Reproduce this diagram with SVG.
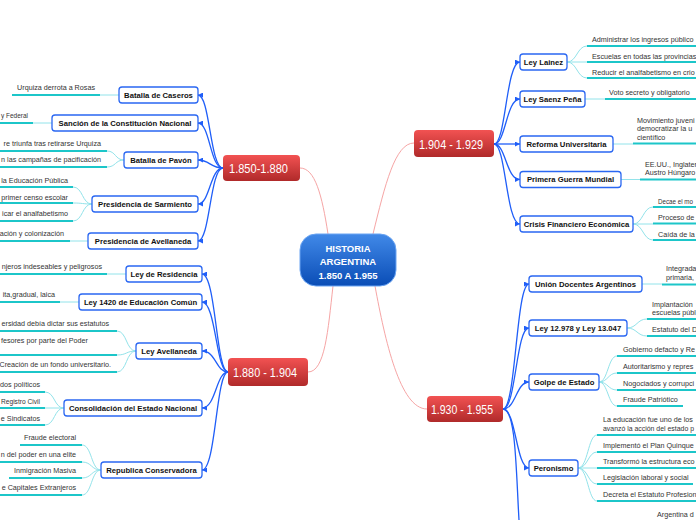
<svg xmlns="http://www.w3.org/2000/svg" width="696" height="520" viewBox="0 0 696 520">
<style>
.bl{fill:none;stroke:#1f5ef8;stroke-width:1.3;marker-end:url(#ar)}
.pk{fill:none;stroke:#f6a5a5;stroke-width:1}
.ul{stroke:#1cc6c9;stroke-width:2}
.lc{fill:none;stroke:#92e3ea;stroke-width:1}
.nd rect{fill:#fff;stroke:#2a67f2;stroke-width:1.3}
.nd text{font-family:"Liberation Sans",Arial,sans-serif;font-weight:bold;font-size:7.7px;fill:#111;text-anchor:middle}
.lf text{font-family:"Liberation Sans",Arial,sans-serif;font-size:7.2px;fill:#333}
.le text{text-anchor:end}
.tp rect{fill:url(#rg)}
.tp text{font-family:"Liberation Sans",Arial,sans-serif;font-size:13px;fill:#fff}
.ct text{font-family:"Liberation Sans",Arial,sans-serif;font-weight:bold;font-size:9.5px;fill:#fff;text-anchor:middle}
</style>
<defs>
<marker id="ar" markerUnits="userSpaceOnUse" markerWidth="5" markerHeight="5" refX="5" refY="2.5" orient="auto"><path d="M0,0 L5,2.5 L0,5 z" fill="#1f5ef8"/></marker>
<linearGradient id="rg" x1="0" y1="0" x2="0" y2="1"><stop offset="0" stop-color="#f25252"/><stop offset="1" stop-color="#b02a2a"/></linearGradient>
<linearGradient id="bg" x1="0" y1="0" x2="0" y2="1"><stop offset="0" stop-color="#4189e8"/><stop offset="1" stop-color="#0a4db6"/></linearGradient>
</defs>
<rect width="696" height="520" fill="#fff"/>

<g id="connectors">
<path class="pk" d="M328,234 C322,195 315,168 300,168"/>
<path class="pk" d="M373,234 C385,185 395,143 414,143"/>
<path class="pk" d="M333,286 C328,330 325,372 308,372"/>
<path class="pk" d="M375,286 C385,340 400,409 427,409"/>

<path class="bl" d="M223,168 C210,168 210,95 198,95"/>
<path class="bl" d="M223,168 C210,168 210,123 198,123"/>
<path class="bl" d="M223,168 C210,168 210,160 198,160"/>
<path class="bl" d="M223,168 C210,168 210,204 198,204"/>
<path class="bl" d="M223,168 C210,168 210,241 198,241"/>

<path class="bl" d="M228,372 C216,372 216,274 202,274"/>
<path class="bl" d="M228,372 C216,372 216,302 202,302"/>
<path class="bl" d="M228,372 C216,372 216,351 202,351"/>
<path class="bl" d="M228,372 C216,372 216,408 202,408"/>
<path class="bl" d="M228,372 C216,372 216,470 202,470"/>

<path class="bl" d="M494,144 C506,144 506,62 520,62"/>
<path class="bl" d="M494,144 C506,144 506,99 520,99"/>
<path class="bl" d="M494,144 L520,144"/>
<path class="bl" d="M494,144 C506,144 506,179.5 520,179.5"/>
<path class="bl" d="M494,144 C506,144 506,224 520,224"/>

<path class="bl" d="M503,409 C516,409 516,284 529,284"/>
<path class="bl" d="M503,409 C516,409 516,328 529,328"/>
<path class="bl" d="M503,409 C516,409 516,382 529,382"/>
<path class="bl" d="M503,409 C516,409 516,468 529,468"/>
<path fill="none" stroke="#1f5ef8" stroke-width="1.3" d="M503,409 C516,409 516,470 519,520"/>

<path class="lc" d="M100,95 H119 M33,123 H52 M124,160 C115,160 116,151 107,151 M124,160 C115,160 116,167 107,167 M92,204 C82,204 83,187 73,187 M92,204 C82,204 83,203 73,203 M92,204 C82,204 83,221 73,221 M70,241 H88"/>
<path class="lc" d="M107,274 H126 M60,302 H79 M136,351 C126,351 127,331 117,331 M136,351 C126,351 127,355 117,355 M136,351 C126,351 127,372 117,372 M64,408 C54,408 55,392 45,392 M64,408 H45 M64,408 C54,408 55,425 45,425 M101,470 C91,470 92,445 82,445 M101,470 C91,470 92,462 82,462 M101,470 C91,470 92,478 82,478 M101,470 C91,470 92,495 82,495"/>
<path class="lc" d="M567,62 C577,62 577,46 587,46 M567,62 H587 M567,62 C577,62 577,78 587,78 M585,99 H605 M613,144 H633 M621,179.5 H640 M633,224 C643,224 643,207 653,207 M633,224 H653 M633,224 C643,224 643,240 653,240"/>
<path class="lc" d="M642,284 H662 M627,328 C637,328 637,319 647,319 M627,328 C637,328 637,336 647,336 M599,382 C608,382 608,356 617,356 M599,382 C608,382 608,373 617,373 M599,382 C608,382 608,390 617,390 M599,382 C608,382 608,406 617,406 M578,468 C588,468 588,435 597,435 M578,468 C588,468 588,452 597,452 M578,468 H597 M578,468 C588,468 588,484 597,484 M578,468 C588,468 588,501 597,501"/>
</g>

<g id="center" class="ct">
<rect x="300" y="234" width="96" height="52" rx="16" fill="url(#bg)" stroke="#6aa4f2" stroke-width="1"/>
<text x="348" y="251.7">HISTORIA</text>
<text x="348" y="265">ARGENTINA</text>
<text x="348" y="278.5">1.850 A 1.955</text>
</g>

<g id="t1850" class="tp"><rect x="223" y="155" width="77" height="26" rx="4"/><text x="229" y="172.7" textLength="59" lengthAdjust="spacingAndGlyphs">1.850-1.880</text></g>
<g id="t1880" class="tp"><rect x="228" y="358" width="80" height="28" rx="4"/><text x="233" y="377" textLength="64" lengthAdjust="spacingAndGlyphs">1.880 - 1.904</text></g>
<g id="t1904" class="tp"><rect x="414" y="130" width="80" height="27" rx="4"/><text x="419" y="148.5" textLength="64" lengthAdjust="spacingAndGlyphs">1.904 - 1.929</text></g>
<g id="t1930" class="tp"><rect x="427" y="396" width="76" height="26" rx="4"/><text x="431" y="413.5" textLength="62" lengthAdjust="spacingAndGlyphs">1.930 - 1.955</text></g>

<g id="caseros" class="nd"><rect x="119" y="87" width="79" height="16" rx="3"/><text x="158.5" y="97.8">Batalla de Caseros</text></g>
<g id="sancion" class="nd"><rect x="52" y="115" width="146" height="16" rx="3"/><text x="125" y="125.8">Sanción de la Constitución Nacional</text></g>
<g id="pavon" class="nd"><rect x="124" y="152" width="74" height="16" rx="3"/><text x="161" y="162.8">Batalla de Pavón</text></g>
<g id="sarmiento" class="nd"><rect x="92" y="196" width="106" height="16" rx="3"/><text x="145" y="206.8">Presidencia de Sarmiento</text></g>
<g id="avellaneda" class="nd"><rect x="88" y="233" width="110" height="16" rx="3"/><text x="143" y="243.8">Presidencia de Avellaneda</text></g>

<g id="residencia" class="nd"><rect x="126" y="266" width="76" height="16" rx="3"/><text x="164" y="276.8">Ley de Residencia</text></g>
<g id="ley1420" class="nd"><rect x="79" y="294" width="123" height="16" rx="3"/><text x="140.5" y="304.8">Ley 1420 de Educación Común</text></g>
<g id="leyavellaneda" class="nd"><rect x="136" y="343" width="66" height="16" rx="3"/><text x="169" y="353.8">Ley Avellaneda</text></g>
<g id="consolidacion" class="nd"><rect x="64" y="400" width="138" height="16" rx="3"/><text x="133" y="410.8">Consolidación del Estado Nacional</text></g>
<g id="republica" class="nd"><rect x="101" y="462" width="101" height="16" rx="3"/><text x="151.5" y="472.8">Republica Conservadora</text></g>

<g id="lainez" class="nd"><rect x="520" y="54" width="47" height="16" rx="3"/><text x="543.5" y="64.8">Ley Lainez</text></g>
<g id="saenz" class="nd"><rect x="520" y="91" width="65" height="16" rx="3"/><text x="552.5" y="101.8">Ley Saenz Peña</text></g>
<g id="reforma" class="nd"><rect x="520" y="136" width="93" height="16" rx="3"/><text x="566.5" y="146.8">Reforma Universitaria</text></g>
<g id="guerra" class="nd"><rect x="520" y="171.5" width="101" height="16" rx="3"/><text x="570.5" y="182.3">Primera Guerra Mundial</text></g>
<g id="crisis" class="nd"><rect x="520" y="216" width="113" height="16" rx="3"/><text x="576.5" y="226.8">Crisis Financiero Económica</text></g>

<g id="union" class="nd"><rect x="529" y="276" width="113" height="16" rx="3"/><text x="585.5" y="286.8">Unión Docentes Argentinos</text></g>
<g id="ley12978" class="nd"><rect x="529" y="320" width="98" height="16" rx="3"/><text x="578" y="330.8">Ley 12.978 y Ley 13.047</text></g>
<g id="golpe" class="nd"><rect x="529" y="374" width="70" height="16" rx="3"/><text x="564" y="384.8">Golpe de Estado</text></g>
<g id="peronismo" class="nd"><rect x="529" y="460" width="49" height="16" rx="3"/><text x="553.5" y="470.8">Peronismo</text></g>

<g id="leaves-left" class="lf le">
<g id="l-caseros"><text x="95" y="90">Urquiza derrota a Rosas</text><line class="ul" x1="12" y1="95" x2="100" y2="95"/></g>
<g id="l-sancion"><text x="28" y="118" textLength="27" lengthAdjust="spacingAndGlyphs">y Federal</text><line class="ul" x1="0" y1="123" x2="33" y2="123"/></g>
<g id="l-pavon1"><text x="101" y="146">re triunfa tras retirarse Urquiza</text><line class="ul" x1="0" y1="151" x2="107" y2="151"/></g>
<g id="l-pavon2"><text x="101" y="162">n las campañas de pacificación</text><line class="ul" x1="0" y1="167" x2="107" y2="167"/></g>
<g id="l-sarm1"><text x="68" y="183">la Educación Pública</text><line class="ul" x1="0" y1="187" x2="73" y2="187"/></g>
<g id="l-sarm2"><text x="68" y="199.5">primer censo escolar</text><line class="ul" x1="0" y1="203" x2="73" y2="203"/></g>
<g id="l-sarm3"><text x="68" y="216">icar el analfabetismo</text><line class="ul" x1="0" y1="221" x2="73" y2="221"/></g>
<g id="l-avell"><text x="64" y="236">ación y colonización</text><line class="ul" x1="0" y1="241" x2="70" y2="241"/></g>
<g id="l-resid"><text x="102" y="269">njeros indeseables y peligrosos</text><line class="ul" x1="0" y1="274" x2="107" y2="274"/></g>
<g id="l-1420"><text x="55" y="297">ita,gradual, laica</text><line class="ul" x1="0" y1="302" x2="60" y2="302"/></g>
<g id="l-lav1"><text x="109" y="326">ersidad debía dictar sus estatutos</text><line class="ul" x1="0" y1="331" x2="117" y2="331"/></g>
<g id="l-lav2"><text x="88" y="343">fesores por parte del Poder</text><line class="ul" x1="0" y1="355" x2="117" y2="355"/></g>
<g id="l-lav3"><text x="111" y="367">Creación de un fondo universitario.</text><line class="ul" x1="0" y1="372" x2="117" y2="372"/></g>
<g id="l-cons1"><text x="40" y="387">dos políticos</text><line class="ul" x1="0" y1="392" x2="45" y2="392"/></g>
<g id="l-cons2"><text x="40" y="404" textLength="39" lengthAdjust="spacingAndGlyphs">Registro Civil</text><line class="ul" x1="0" y1="408" x2="45" y2="408"/></g>
<g id="l-cons3"><text x="40" y="421">e Sindicatos</text><line class="ul" x1="0" y1="425" x2="45" y2="425"/></g>
<g id="l-rep1"><text x="76" y="440">Fraude electoral</text><line class="ul" x1="20" y1="445" x2="82" y2="445"/></g>
<g id="l-rep2"><text x="76" y="457">n del poder en una elite</text><line class="ul" x1="0" y1="462" x2="82" y2="462"/></g>
<g id="l-rep3"><text x="76" y="473">Inmigración Masiva</text><line class="ul" x1="9" y1="478" x2="82" y2="478"/></g>
<g id="l-rep4"><text x="76" y="490">e Capitales Extranjeros</text><line class="ul" x1="0" y1="495" x2="82" y2="495"/></g>
</g>

<g id="leaves-right" class="lf">
<g id="r-lainez1"><text x="592" y="42">Administrar los ingresos público</text><line class="ul" x1="587" y1="46" x2="696" y2="46"/></g>
<g id="r-lainez2"><text x="592" y="59">Escuelas en todas las provincias</text><line class="ul" x1="587" y1="62" x2="696" y2="62"/></g>
<g id="r-lainez3"><text x="592" y="75">Reducir el analfabetismo en crio</text><line class="ul" x1="587" y1="78" x2="696" y2="78"/></g>
<g id="r-saenz"><text x="609" y="95">Voto secreto y obligatorio</text><line class="ul" x1="605" y1="99" x2="696" y2="99"/></g>
<g id="r-reforma"><text x="637" y="122.5">Movimiento juveni</text><text x="637" y="131">democratizar la u</text><text x="637" y="139.5">científico</text><line class="ul" x1="633" y1="143.5" x2="696" y2="143.5"/></g>
<g id="r-guerra"><text x="645" y="166.5">EE.UU., Inglater</text><text x="645" y="174.5">Austro Húngaro</text><line class="ul" x1="640" y1="179.5" x2="696" y2="179.5"/></g>
<g id="r-crisis1"><text x="658" y="204" textLength="35" lengthAdjust="spacingAndGlyphs">Decae el mo</text><line class="ul" x1="653" y1="207" x2="696" y2="207"/></g>
<g id="r-crisis2"><text x="658" y="220">Proceso de</text><line class="ul" x1="653" y1="223.5" x2="696" y2="223.5"/></g>
<g id="r-crisis3"><text x="658" y="236.5">Caída de la</text><line class="ul" x1="653" y1="240" x2="696" y2="240"/></g>
<g id="r-union"><text x="666" y="270.5">Integrada</text><text x="666" y="279.5">primaria,</text><line class="ul" x1="662" y1="284.5" x2="696" y2="284.5"/></g>
<g id="r-ley1"><text x="652" y="306.5">Implantación</text><text x="652" y="314.5">escuelas públ</text><line class="ul" x1="647" y1="319" x2="696" y2="319"/></g>
<g id="r-ley2"><text x="652" y="331.5">Estatuto del D</text><line class="ul" x1="647" y1="336" x2="696" y2="336"/></g>
<g id="r-golpe1"><text x="623" y="351.5">Gobierno defacto y Re</text><line class="ul" x1="617" y1="356" x2="696" y2="356"/></g>
<g id="r-golpe2"><text x="623" y="368.5">Autoritarismo y repres</text><line class="ul" x1="617" y1="373" x2="696" y2="373"/></g>
<g id="r-golpe3"><text x="623" y="385.5">Nogociados y corrupci</text><line class="ul" x1="617" y1="390" x2="696" y2="390"/></g>
<g id="r-golpe4"><text x="623" y="401.5">Fraude Patriótico</text><line class="ul" x1="617" y1="406" x2="683" y2="406"/></g>
<g id="r-per1"><text x="603" y="421.5">La educación fue uno de los</text><text x="603" y="430.5" textLength="91" lengthAdjust="spacingAndGlyphs">avanzó la acción del estado p</text><line class="ul" x1="597" y1="435" x2="696" y2="435"/></g>
<g id="r-per2"><text x="603" y="448">Implementó el Plan Quinque</text><line class="ul" x1="597" y1="452" x2="696" y2="452"/></g>
<g id="r-per3"><text x="603" y="464">Transformó la estructura eco</text><line class="ul" x1="597" y1="468" x2="696" y2="468"/></g>
<g id="r-per4"><text x="603" y="480">Legislación laboral y social</text><line class="ul" x1="597" y1="484" x2="693" y2="484"/></g>
<g id="r-per5"><text x="603" y="496.5">Decreta el Estatuto Profesion</text><line class="ul" x1="597" y1="501" x2="696" y2="501"/></g>
<g id="r-arg"><text x="657" y="517">Argentina d</text></g>
</g>
</svg>
